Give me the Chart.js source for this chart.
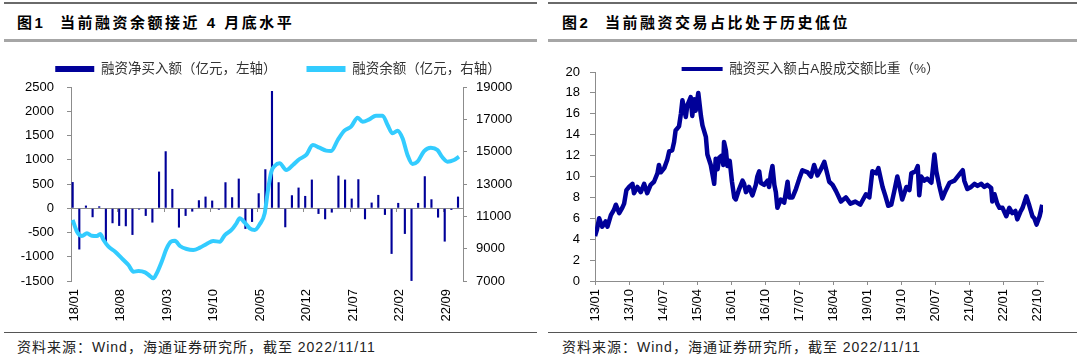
<!DOCTYPE html>
<html><head><meta charset="utf-8">
<script src="https://cdn.jsdelivr.net/npm/chart.js@4.4.1/dist/chart.umd.min.js"></script>
<style>
html,body{margin:0;padding:0;background:#fff;width:1080px;height:357px;overflow:hidden;position:relative;}
.ln{position:absolute;}
.title{position:absolute;top:14px;font-family:"Liberation Sans","Noto Sans CJK SC",sans-serif;font-weight:bold;font-size:15px;letter-spacing:2.5px;color:#000;white-space:nowrap;line-height:18px;}
.src{position:absolute;top:338px;font-family:"Liberation Sans","Noto Sans CJK SC",sans-serif;font-size:14px;letter-spacing:1px;color:#222;white-space:nowrap;line-height:18px;}
canvas{position:absolute;top:0;}
</style></head>
<body>
<div class="ln" style="left:4px;top:2px;width:533px;height:2px;background:#6a6a6a"></div>
<div class="ln" style="left:4px;top:39px;width:533px;height:3px;background:#a6a6a6"></div>
<div class="ln" style="left:4px;top:332px;width:533px;height:1px;background:#555"></div>
<div class="ln" style="left:548px;top:2px;width:529px;height:2px;background:#6a6a6a"></div>
<div class="ln" style="left:548px;top:39px;width:529px;height:3px;background:#a6a6a6"></div>
<div class="ln" style="left:548px;top:332px;width:529px;height:1px;background:#555"></div>
<div class="title" style="left:17px">图1</div>
<div class="title" style="left:60px">当前融资余额接近 4 月底水平</div>
<div class="title" style="left:562px">图2</div>
<div class="title" style="left:605px">当前融资交易占比处于历史低位</div>
<div class="src" style="left:17px">资料来源：Wind，海通证券研究所，截至 2022/11/11</div>
<div class="src" style="left:562px">资料来源：Wind，海通证券研究所，截至 2022/11/11</div>
<canvas id="c1" width="534" height="330" style="left:4px"></canvas>
<canvas id="c2" width="529" height="330" style="left:548px"></canvas>
<script>
// ---------- Figure 1 data ----------
const months = ['18/01','18/02','18/03','18/04','18/05','18/06','18/07','18/08','18/09','18/10','18/11','18/12',
'19/01','19/02','19/03','19/04','19/05','19/06','19/07','19/08','19/09','19/10','19/11','19/12',
'20/01','20/02','20/03','20/04','20/05','20/06','20/07','20/08','20/09','20/10','20/11','20/12',
'21/01','21/02','21/03','21/04','21/05','21/06','21/07','21/08','21/09','21/10','21/11','21/12',
'22/01','22/02','22/03','22/04','22/05','22/06','22/07','22/08','22/09','22/10','22/11'];
const netBuy = [540,-850,55,-185,40,-728,-309,-364,-371,-550,-27,-158,
-295,756,1175,398,-398,-158,-69,165,240,158,-30,536,
227,611,-426,-282,309,804,2418,536,-392,268,426,254,
591,-117,-227,-89,673,591,199,598,-227,117,275,-137,
-941,110,-529,-1498,110,660,185,-192,-687,-34,240];
const balanceMonth = [-0.25,0.4,1.15,1.9,2.65,3.4,3.9,4.4,5.15,6.15,7.15,8.15,8.9,9.65,10.65,11.4,11.9,12.4,13.15,13.9,
14.55,15.15,15.9,16.9,17.9,18.9,19.9,20.9,21.9,22.65,23.65,24.4,24.9,25.65,26.4,27.15,27.9,28.65,29.15,29.65,
30.15,30.9,31.9,32.9,33.9,34.9,35.9,36.9,37.9,38.65,39.65,40.65,41.65,42.65,43.4,44.4,45.4,46.4,47.15,47.9,
48.65,49.4,50.15,50.9,51.65,52.65,53.65,54.65,55.4,56.15,57.15,57.9];
const balanceValue = [10773,10050,9783,9950,9800,9783,9907,9535,9120,8810,8400,7988,7575,7618,7535,7308,7165,7475,8195,9020,
9430,9490,9165,8980,8920,9060,9290,9475,9430,9845,10155,10570,10880,10610,10260,10155,10510,11187,12628,13760,
14113,14278,13866,14175,14546,14794,15412,15247,15062,15041,15721,16298,16546,17103,16855,17000,17227,17227,16649,16134,
16298,15827,14794,14237,14380,15041,15247,15103,14650,14380,14484,14690];
const leftTickLabels = ['18/01','18/08','19/03','19/10','20/05','20/12','21/07','22/02','22/09'];

// ---------- Figure 2 data ----------
const ratioMonth = [0,0.5,1.1,1.9,2.8,3.3,4.2,5.0,5.5,6.4,7.2,7.7,8.3,9.0,9.9,10.3,11.2,12.1,13.0,13.8,
14.7,15.6,16.5,16.9,17.4,18.3,19.1,19.6,20.4,20.9,21.3,22.2,22.7,23.1,24.0,24.4,25.3,25.7,26.2,26.6,
27.3,28.0,28.4,29.3,29.7,30.6,31.0,31.5,31.9,32.4,32.8,33.5,33.9,34.1,34.6,35.0,35.6,36.2,36.8,37.2,
38.1,39.0,39.4,39.9,40.7,41.6,42.5,42.9,43.4,43.8,44.7,45.6,46.0,46.5,46.9,47.4,47.8,48.2,49.1,50.0,
50.9,51.3,52.2,53.1,54.0,54.8,56.2,57.1,57.9,58.8,59.7,60.6,61.5,61.9,62.8,63.7,65.0,66.3,67.5,68.8,
70.1,71.6,72.5,73.3,74.3,74.9,76.0,76.7,77.5,78.3,79.1,79.9,80.4,81.2,82.3,83.1,83.6,84.7,85.3,85.7,
86.2,87.0,87.8,88.9,89.7,90.2,91.0,91.8,92.6,93.7,95.0,96.3,97.2,97.6,98.4,99.4,100.3,101.1,102.1,102.9,
103.7,104.7,105.0,105.6,106.3,106.9,107.7,108.7,109.5,110.3,111.1,111.6,112.4,113.0,114.0,114.8,115.6,116.1,116.7,117.5,118.2];
const ratioValue = [4.3,4.9,6.0,5.2,5.7,5.2,6.3,6.8,7.3,6.5,7.0,7.4,8.7,9.0,9.3,8.4,9.0,8.5,9.3,8.4,
9.2,9.5,10.3,11.1,10.4,10.8,11.6,12.4,12.5,13.3,14.4,14.8,16.0,17.3,15.7,16.8,17.6,15.8,17.4,16.3,
18.0,15.8,14.9,13.8,12.1,11.1,10.3,9.3,11.7,10.7,11.8,12.0,11.1,13.3,12.5,11.0,11.5,9.5,8.0,7.8,
8.8,9.6,9.3,8.5,9.0,8.2,9.2,10.0,10.5,9.4,9.2,9.6,9.0,10.3,11.0,9.2,8.5,7.0,7.8,7.5,
9.5,8.0,8.0,8.8,9.8,10.6,10.4,10.0,11.1,10.1,10.7,11.4,10.1,9.5,9.2,8.6,7.6,8.0,7.4,7.6,
7.3,8.3,8.0,10.5,10.3,10.8,9.0,8.2,7.2,7.3,8.6,10.0,9.2,7.8,9.0,8.7,10.3,10.5,11.0,8.2,
10.0,9.6,9.8,9.4,12.1,10.5,9.1,7.9,8.6,9.4,9.6,10.2,10.6,9.6,8.8,9.0,9.3,9.1,9.3,9.0,
9.2,8.9,7.6,8.3,7.4,7.0,7.0,6.2,7.0,6.5,6.7,5.9,6.6,7.0,8.1,7.2,6.2,6.0,5.4,6.2,7.3];
const rightTickLabels = ['13/01','13/10','14/07','15/04','16/01','16/10','17/07','18/04','19/01','19/10','20/07','21/04','22/01','22/10'];

const FONT = "'Liberation Sans','Noto Sans CJK SC',sans-serif";
const AXIS = '#8c8c8c';
const NAVY = '#000099';
const CYAN = '#33CCFF';
const plain = v => String(v);

const legendShift = {
  id: 'legendShift',
  afterLayout(chart, args, opts) {
    const lg = chart.legend;
    if (!lg) return;
    const h = lg.bottom - lg.top;
    lg.top = opts.top; lg.bottom = opts.top + h;
    lg.left += opts.dx || 0; lg.right += opts.dx || 0;
  }
};

function legendLabels(chart) {
  return chart.data.datasets.map((ds, i) => ({
    text: ds.label, fillStyle: ds.legendColor, strokeStyle: ds.legendColor,
    lineWidth: 0, hidden: false, datasetIndex: i, fontColor: '#333'
  }));
}

new Chart(document.getElementById('c1'), {
  type: 'bar',
  data: {
    labels: months,
    datasets: [
      { type: 'bar', label: '融资净买入额（亿元，左轴）', data: netBuy, backgroundColor: NAVY, legendColor: NAVY,
        xAxisID: 'x', yAxisID: 'y', barPercentage: 0.64, categoryPercentage: 1.0, order: 2 },
      { type: 'line', label: '融资余额（亿元，右轴）', legendColor: CYAN,
        data: balanceMonth.map((m, i) => ({ x: m, y: balanceValue[i] })),
        xAxisID: 'xl', yAxisID: 'y2', borderColor: CYAN, borderWidth: 4, pointRadius: 0,
        cubicInterpolationMode: 'monotone', order: 1 }
    ]
  },
  options: {
    responsive: false, animation: false,
    layout: { padding: { top: 33.5, left: 0, right: 0, bottom: 0 } },
    plugins: {
      tooltip: { enabled: false },
      legend: { position: 'top', labels: { boxWidth: 39, boxHeight: 6, padding: 30, color: '#333',
        font: { family: FONT, size: 13.5 }, generateLabels: legendLabels } },
      legendShift: { top: 32.25, dx: 7 }
    },
    scales: {
      x: { type: 'category', position: 'bottom', offset: true,
        grid: { display: false, drawTicks: false }, border: { display: false },
        ticks: { autoSkip: false, minRotation: 90, maxRotation: 90, padding: 8, color: '#000',
          font: { family: FONT, size: 13 },
          callback: (v, i) => (i % 7 === 0 ? leftTickLabels[i / 7] : null) },
        afterFit: s => { s.height = 49; } },
      xz: { type: 'category', position: { y: 0 }, offset: true,
        grid: { offset: true, drawOnChartArea: false, drawTicks: true, tickLength: 3,
          color: c => (c.index % 7 === 0 ? AXIS : 'rgba(0,0,0,0)') },
        border: { display: true, color: AXIS, width: 1 },
        ticks: { display: false, autoSkip: false } },
      xl: { type: 'linear', display: false, offset: false, min: -0.5, max: 58.5, grid: { offset: false } },
      y: { position: 'left', min: -1500, max: 2500,
        ticks: { stepSize: 500, padding: 13, color: '#000', font: { family: FONT, size: 13 }, callback: plain },
        grid: { drawOnChartArea: false, tickLength: 4, color: AXIS }, border: { color: AXIS },
        afterFit: s => { s.width = 67; } },
      y2: { position: 'right', min: 7000, max: 19000,
        ticks: { stepSize: 2000, padding: 9, color: '#000', font: { family: FONT, size: 13 }, callback: plain },
        grid: { drawOnChartArea: false, tickLength: 4, color: AXIS }, border: { color: AXIS },
        afterFit: s => { s.width = 75; } }
    }
  },
  plugins: [legendShift]
});

new Chart(document.getElementById('c2'), {
  type: 'line',
  data: {
    datasets: [
      { label: '融资买入额占A股成交额比重（%）', legendColor: NAVY,
        data: ratioMonth.map((m, i) => ({ x: m, y: ratioValue[i] })),
        borderColor: NAVY, borderWidth: 4.5, pointRadius: 0, tension: 0, borderJoinStyle: 'round' }
    ]
  },
  options: {
    responsive: false, animation: false,
    layout: { padding: { top: 18.5, left: 0, right: 34, bottom: 0 } },
    plugins: {
      tooltip: { enabled: false },
      legend: { position: 'top', labels: { boxWidth: 41, boxHeight: 4, padding: 30, color: '#333',
        font: { family: FONT, size: 13.5 }, generateLabels: legendLabels } },
      legendShift: { top: 32.25, dx: 15 }
    },
    scales: {
      x: { type: 'linear', min: 0, max: 118.4,
        ticks: { stepSize: 9, includeBounds: false, autoSkip: false, minRotation: 90, maxRotation: 90, padding: 4,
          color: '#000', font: { family: FONT, size: 13 },
          callback: v => rightTickLabels[Math.round(v / 9)] },
        grid: { drawOnChartArea: false, tickLength: 4, color: AXIS }, border: { color: AXIS },
        afterFit: s => { s.height = 49; } },
      y: { min: 0, max: 20,
        ticks: { stepSize: 2, padding: 10, color: '#000', font: { family: FONT, size: 13 }, callback: plain },
        grid: { drawOnChartArea: false, tickLength: 5, color: AXIS }, border: { color: AXIS },
        afterFit: s => { s.width = 47; } }
    }
  },
  plugins: [legendShift]
});
</script>
</body></html>
